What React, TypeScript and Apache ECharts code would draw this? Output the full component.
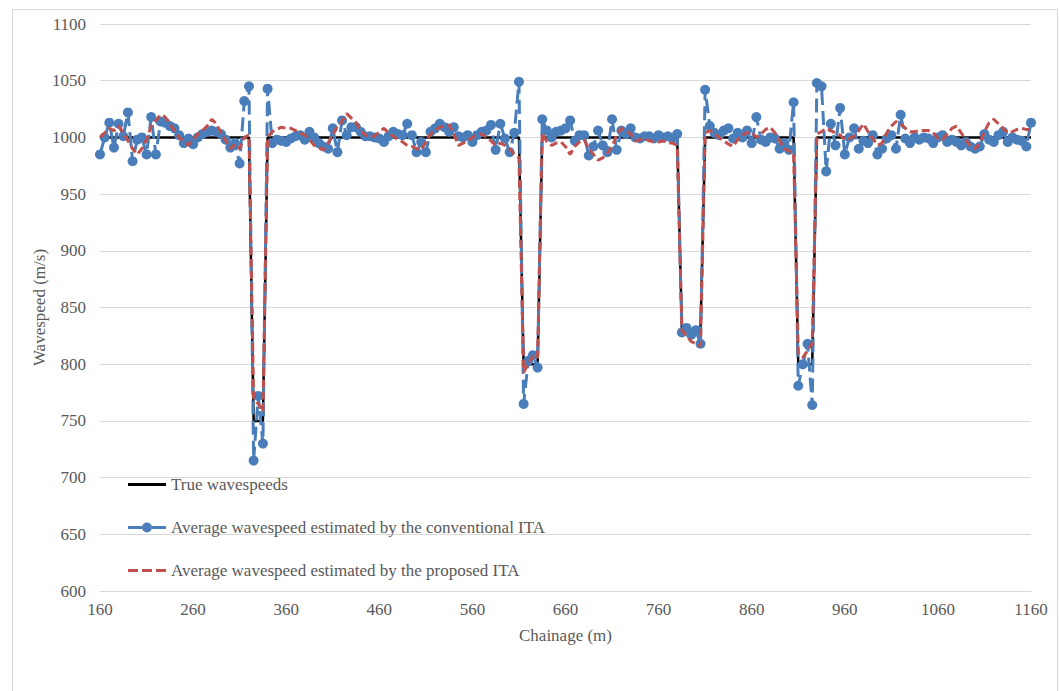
import React, { useEffect, useRef } from "react";
import * as echarts from "echarts";

const CHAINAGE_START = 160;
const CHAINAGE_STEP = 5;

const xTicks = { min: 160, max: 1160, interval: 100 };
const yTicks = { min: 600, max: 1100, interval: 50 };

// True wavespeed profile as break points [chainage, wavespeed]
const trueWavespeeds: [number, number][] = [
  [160, 1000], [320, 1000], [325, 750], [335, 750], [340, 1000],
  [610, 1000], [615, 800], [630, 800], [635, 1000],
  [780, 1000], [785, 830], [805, 830], [810, 1000],
  [905, 1000], [910, 800], [925, 800], [930, 1000], [1160, 1000],
];

// Conventional ITA, one value every 5 m from 160 m
const conventional = [
  985, 1000, 1013, 991, 1012, 1001, 1022, 979, 998, 1000,
  985, 1018, 985, 1014, 1013, 1010, 1008, 1002, 995, 999,
  994, 1000, 1003, 1005, 1006, 1005, 1003, 998, 991, 995,
  977, 1032, 1045, 715, 772, 730, 1043, 995, 998, 997,
  996, 999, 1001, 1002, 998, 1005, 1000, 995, 992, 990,
  1008, 987, 1015, 1002, 1009, 1009, 1005, 1001, 1001, 1000,
  999, 996, 1001, 1005, 1003, 1002, 1012, 1002, 987, 996,
  987, 1005, 1008, 1012, 1009, 1005, 1009, 1001, 1000, 1002,
  996, 1002, 1005, 1006, 1011, 989, 1012, 999, 987, 1004,
  1049, 765, 803, 808, 797, 1016, 1006, 1000, 1005, 1006,
  1008, 1015, 997, 1002, 1002, 984, 992, 1006, 993, 987,
  1016, 989, 1006, 1003, 1008, 1000, 999, 1001, 1001, 999,
  1002, 1000, 1001, 999, 1003, 828, 832, 826, 830, 818,
  1042, 1010, 1004, 1002, 1006, 1008, 999, 1004, 1000, 1006,
  995, 1018, 998, 996, 1000, 999, 990, 995, 989, 1031,
  781, 800, 818, 764, 1048, 1045, 970, 1012, 993, 1026,
  985, 1000, 1008, 990, 997, 995, 1002, 985, 990, 999,
  1002, 990, 1020, 999, 995, 1000, 998, 1000, 999, 995,
  1000, 1002, 996, 998, 996, 993, 996, 992, 990, 992,
  1003, 998, 996, 1002, 1005, 996, 1000, 998, 997, 992,
  1013,
];

// Proposed ITA, one value every 5 m from 160 m
const proposed = [
  1000, 1004, 1008, 1006, 1010, 1004, 997, 990, 985, 990,
  998, 1010, 1015, 1020, 1018, 1012, 1006, 1000, 996, 993,
  998, 1003, 1006, 1010, 1016, 1012, 1004, 997, 990, 994,
  990, 1000, 1002, 770, 765, 758, 1000, 1005, 1007, 1009,
  1008, 1008, 1006, 1004, 1002, 998, 993, 991, 989, 995,
  1002, 1010, 1014, 1021, 1017, 1013, 1006, 1002, 1001, 1001,
  1005, 1008, 1004, 1001, 998, 996, 993, 992, 990, 989,
  996, 1003, 1006, 1009, 1010, 1011, 1003, 993, 995, 997,
  1000, 1002, 1003, 1000, 997, 993, 995, 993, 990, 985,
  982, 793, 800, 807, 805, 1004, 996, 993, 995, 996,
  992, 985, 992, 996, 998, 990, 985, 980, 982, 986,
  992, 1002, 1008, 1006, 1003, 997, 998, 999, 997, 996,
  996, 997, 995, 995, 993, 830, 825, 820, 818, 816,
  1004, 1006, 1003, 1000, 997, 994, 992, 998, 1002, 1004,
  1005, 1000, 1003, 1007, 1009, 1004, 997, 990, 988, 986,
  810, 806, 812, 818, 1003, 1005, 1008, 1006, 1004, 1002,
  998, 999, 1001, 1006, 1012, 1005, 999, 993, 995, 1004,
  1010, 1014, 1012, 1008, 1005, 1005, 1006, 1006, 1006, 1004,
  999, 998, 1003, 1008, 1010, 1004, 998, 992, 990, 995,
  1005, 1013, 1016, 1012, 1008, 1004, 1005, 1007, 1008, 1007,
  1007,
];

const seriesNames = [
  "True wavespeeds",
  "Average wavespeed estimated by the conventional ITA",
  "Average wavespeed estimated by the proposed ITA",
];

const withChainage = (vals: number[]) =>
  vals.map((v, i) => [CHAINAGE_START + i * CHAINAGE_STEP, v]);

const FONT = "Liberation Serif";
const TEXT = "#595959";
const FS = 17;

const ICON_SOLID = "path://M0 -1.5H38V1.5H0Z";
const ICON_MARKER =
  "path://M0 -1.5H14V1.5H0Z M24 -1.5H38V1.5H24Z M14 0A5 5 0 1 0 24 0A5 5 0 1 0 14 0Z";
const ICON_DASH = "path://M0 -1.5H10V1.5H0Z M14 -1.5H24V1.5H14Z M28 -1.5H38V1.5H28Z";

export default function App() {
  const ref = useRef<HTMLDivElement>(null);
  useEffect(() => {
    if (!ref.current) return;
    const chart = echarts.init(ref.current, undefined, { renderer: "svg" });
    chart.setOption({
      animation: false,
      backgroundColor: "#ffffff",
      textStyle: { fontFamily: FONT },
      graphic: [
        {
          type: "rect",
          left: 10,
          top: 7,
          shape: { width: 1045, height: 700 },
          style: { fill: "none", stroke: "#d9d9d9", lineWidth: 1 },
          silent: true,
          z: -1,
        },
      ],
      grid: { left: 100, right: 29, top: 24, bottom: 100, containLabel: false },
      legend: {
        orient: "vertical",
        left: 123,
        top: 471,
        itemWidth: 38,
        itemHeight: 10,
        itemGap: 26,
        symbolKeepAspect: true,
        textStyle: { fontFamily: FONT, fontSize: FS, color: TEXT },
        data: [
          { name: seriesNames[0], icon: ICON_SOLID },
          { name: seriesNames[1], icon: ICON_MARKER },
          { name: seriesNames[2], icon: ICON_DASH },
        ],
      },
      xAxis: {
        type: "value",
        min: xTicks.min,
        max: xTicks.max,
        interval: xTicks.interval,
        name: "Chainage (m)",
        nameLocation: "middle",
        nameGap: 36,
        nameMoveOverlap: false,
        nameTextStyle: { fontFamily: FONT, fontSize: FS, color: TEXT },
        axisLine: { show: true, lineStyle: { color: "#d9d9d9", width: 1 } },
        axisTick: { show: false },
        splitLine: { show: false },
        axisLabel: {
          fontFamily: FONT,
          fontSize: FS,
          color: TEXT,
          margin: 10,
          formatter: (v: number) => String(v),
        },
      },
      yAxis: {
        type: "value",
        min: yTicks.min,
        max: yTicks.max,
        interval: yTicks.interval,
        name: "Wavespeed (m/s)",
        nameLocation: "middle",
        nameGap: 52,
        nameMoveOverlap: false,
        nameTextStyle: { fontFamily: FONT, fontSize: FS, color: TEXT },
        axisLine: { show: false },
        axisTick: { show: false },
        splitLine: { show: true, lineStyle: { color: "#d9d9d9", width: 1 } },
        axisLabel: {
          fontFamily: FONT,
          fontSize: FS,
          color: TEXT,
          margin: 14,
          formatter: (v: number) => String(v),
        },
      },
      series: [
        {
          name: seriesNames[0],
          type: "line",
          data: trueWavespeeds,
          symbol: "none",
          lineStyle: { color: "#000000", width: 2.5 },
          itemStyle: { color: "#000000" },
          z: 2,
        },
        {
          name: seriesNames[1],
          type: "line",
          data: withChainage(conventional),
          symbol: "circle",
          symbolSize: 10,
          showSymbol: true,
          lineStyle: { color: "#4A7EBB", width: 3, type: [14, 6] },
          itemStyle: { color: "#4A7EBB" },
          z: 3,
        },
        {
          name: seriesNames[2],
          type: "line",
          data: withChainage(proposed),
          symbol: "none",
          lineStyle: { color: "#C0504D", width: 3, type: [8, 4] },
          itemStyle: { color: "#C0504D" },
          z: 4,
        },
      ],
    });
    return () => chart.dispose();
  }, []);
  return (
    <div
      ref={ref}
      style={{ position: "fixed", left: 0, top: 0, width: 1060, height: 691, background: "#fff" }}
    />
  );
}
